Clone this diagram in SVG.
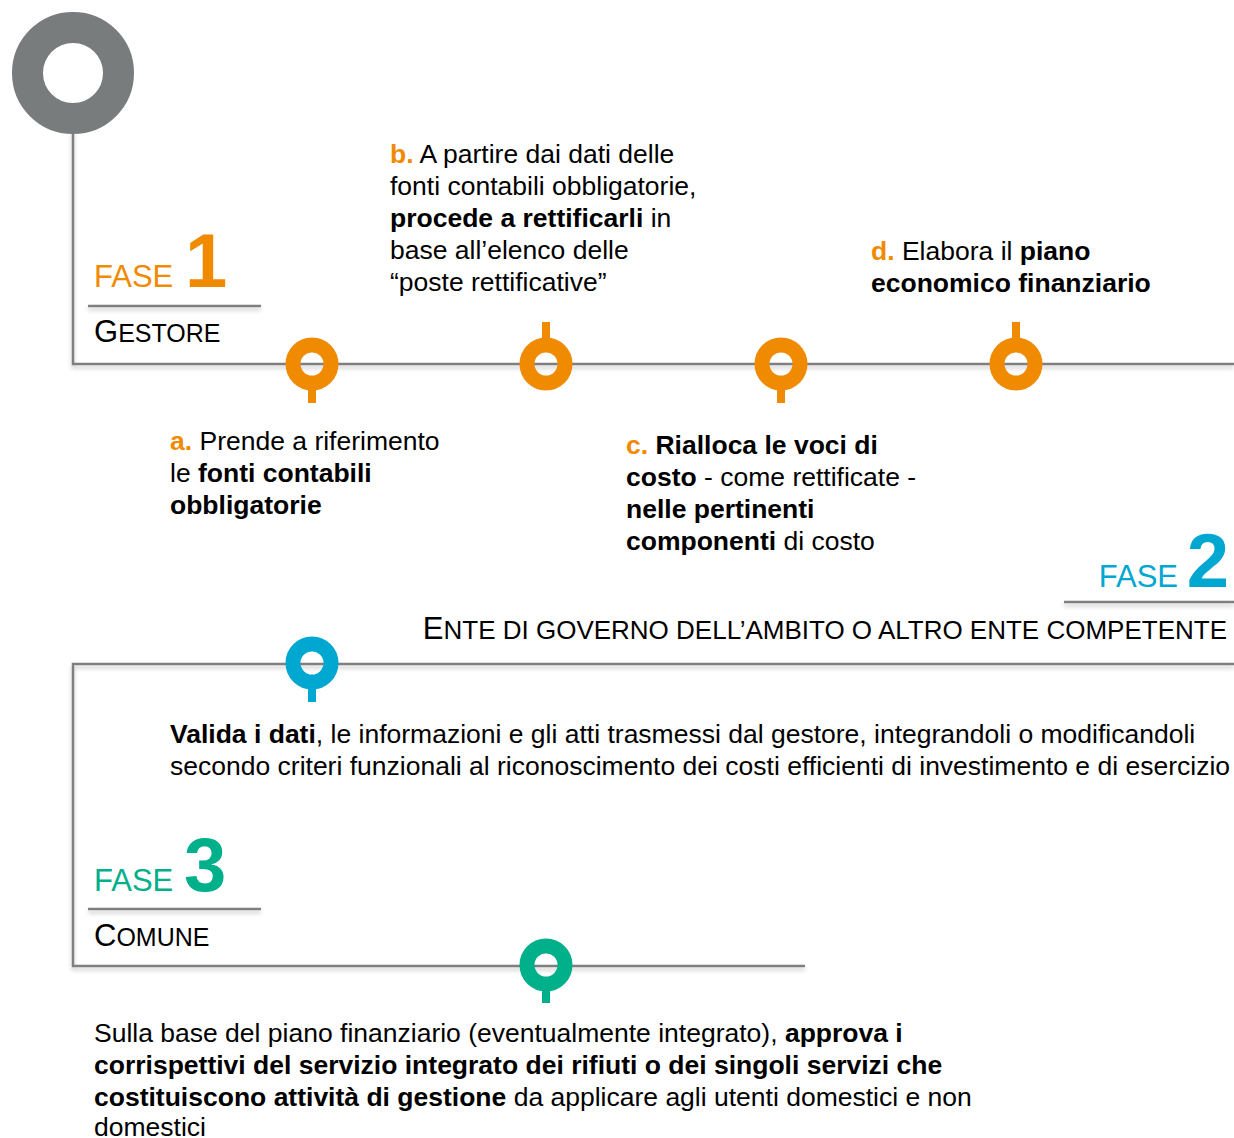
<svg xmlns="http://www.w3.org/2000/svg" width="1234" height="1138" viewBox="0 0 1234 1138">
<style>
  text { font-family: "Liberation Sans", Arial, sans-serif; fill: #000; }
  .body { font-size: 26.5px; }
  .b { font-weight: bold; }
  .or { fill: #f08a00; font-weight: bold; }
  .fase { font-size: 31px; }
  .num { font-size: 76px; font-weight: bold; }
  .big { font-size: 31px; }
  .sm { font-size: 25px; }
  .line { stroke: #7f7f7f; stroke-width: 2.5; fill: none; }
  .ring-o { fill: none; stroke: #f08a00; stroke-width: 15; }
  .ring-b { fill: none; stroke: #00a7d0; stroke-width: 15; }
  .ring-g { fill: none; stroke: #00b08a; stroke-width: 15; }
</style>
<defs>
  <filter id="sh" x="-5%" y="-50%" width="110%" height="200%">
    <feDropShadow dx="0" dy="3" stdDeviation="2" flood-color="#000" flood-opacity="0.22"/>
  </filter>
</defs>
<rect width="1234" height="1138" fill="#fff"/>

<g id="connectors" filter="url(#sh)">
  <path class="line" d="M73,130 V364 H1234"/>
  <path class="line" d="M1234,664 H73 V966 H805"/>
  <line class="line" x1="88" y1="306" x2="261" y2="306"/>
  <line class="line" x1="1064" y1="602" x2="1234" y2="602"/>
  <line class="line" x1="88" y1="909" x2="261" y2="909"/>
</g>

<g id="start">
  <circle cx="73" cy="73" r="45.5" fill="none" stroke="#797c7d" stroke-width="31"/>
</g>

<g id="fase1">
  <text x="94" y="287" class="fase" style="fill:#f08a00">FASE</text>
  <text x="185" y="287" class="num" style="fill:#f08a00">1</text>
  <text x="94" y="342"><tspan class="big">G</tspan><tspan class="sm">ESTORE</tspan></text>
</g>

<g id="pin-a">
  <rect x="308" y="380" width="8" height="23" fill="#f08a00"/>
  <circle class="ring-o" cx="312" cy="364" r="19"/>
</g>
<g id="pin-b">
  <rect x="542" y="322" width="8" height="25" fill="#f08a00"/>
  <circle class="ring-o" cx="546" cy="364" r="19"/>
</g>
<g id="pin-c">
  <rect x="777" y="380" width="8" height="23" fill="#f08a00"/>
  <circle class="ring-o" cx="781" cy="364" r="19"/>
</g>
<g id="pin-d">
  <rect x="1012" y="322" width="8" height="25" fill="#f08a00"/>
  <circle class="ring-o" cx="1016" cy="364" r="19"/>
</g>

<g id="text-a">
  <text x="170" y="450" class="body"><tspan class="or">a.</tspan> Prende a riferimento</text>
  <text x="170" y="482" class="body">le <tspan class="b">fonti contabili</tspan></text>
  <text x="170" y="514" class="body b">obbligatorie</text>
</g>
<g id="text-b">
  <text x="390" y="163" class="body"><tspan class="or">b.</tspan> A partire dai dati delle</text>
  <text x="390" y="195" class="body">fonti contabili obbligatorie,</text>
  <text x="390" y="227" class="body"><tspan class="b">procede a rettificarli</tspan> in</text>
  <text x="390" y="259" class="body">base all’elenco delle</text>
  <text x="390" y="291" class="body">“poste rettificative”</text>
</g>
<g id="text-c">
  <text x="626" y="454" class="body"><tspan class="or">c.</tspan> <tspan class="b">Rialloca le voci di</tspan></text>
  <text x="626" y="486" class="body"><tspan class="b">costo</tspan> - come rettificate -</text>
  <text x="626" y="518" class="body b">nelle pertinenti</text>
  <text x="626" y="550" class="body"><tspan class="b">componenti</tspan> di costo</text>
</g>
<g id="text-d">
  <text x="871" y="260" class="body"><tspan class="or">d.</tspan> Elabora il <tspan class="b">piano</tspan></text>
  <text x="871" y="292" class="body b">economico finanziario</text>
</g>

<g id="fase2">
  <text x="1178" y="587" text-anchor="end" class="fase" style="fill:#00a7d0">FASE</text>
  <text x="1229" y="587" text-anchor="end" class="num" style="fill:#00a7d0">2</text>
  <text x="1227" y="639" text-anchor="end"><tspan style="font-size:31px">E</tspan><tspan style="font-size:26px">NTE DI GOVERNO DELL’AMBITO O ALTRO ENTE COMPETENTE</tspan></text>
</g>

<g id="pin-fase2">
  <rect x="308" y="680" width="8" height="22" fill="#00a7d0"/>
  <circle class="ring-b" cx="312" cy="663" r="19"/>
</g>

<g id="text-fase2">
  <text x="170" y="743" class="body"><tspan class="b">Valida i dati</tspan>, le informazioni e gli atti trasmessi dal gestore, integrandoli o modificandoli</text>
  <text x="170" y="775" class="body">secondo criteri funzionali al riconoscimento dei costi efficienti di investimento e di esercizio</text>
</g>

<g id="fase3">
  <text x="94" y="891" class="fase" style="fill:#00b08a">FASE</text>
  <text x="184" y="891" class="num" style="fill:#00b08a">3</text>
  <text x="94" y="946"><tspan class="big">C</tspan><tspan class="sm">OMUNE</tspan></text>
</g>

<g id="pin-fase3">
  <rect x="542" y="982" width="8" height="21" fill="#00b08a"/>
  <circle class="ring-g" cx="546" cy="965" r="19"/>
</g>

<g id="text-fase3">
  <text x="94" y="1042" class="body">Sulla base del piano finanziario (eventualmente integrato), <tspan class="b">approva i</tspan></text>
  <text x="94" y="1074" class="body b">corrispettivi del servizio integrato dei rifiuti o dei singoli servizi che</text>
  <text x="94" y="1106" class="body"><tspan class="b">costituiscono attività di gestione</tspan> da applicare agli utenti domestici e non</text>
  <text x="94" y="1136" class="body">domestici</text>
</g>
</svg>
